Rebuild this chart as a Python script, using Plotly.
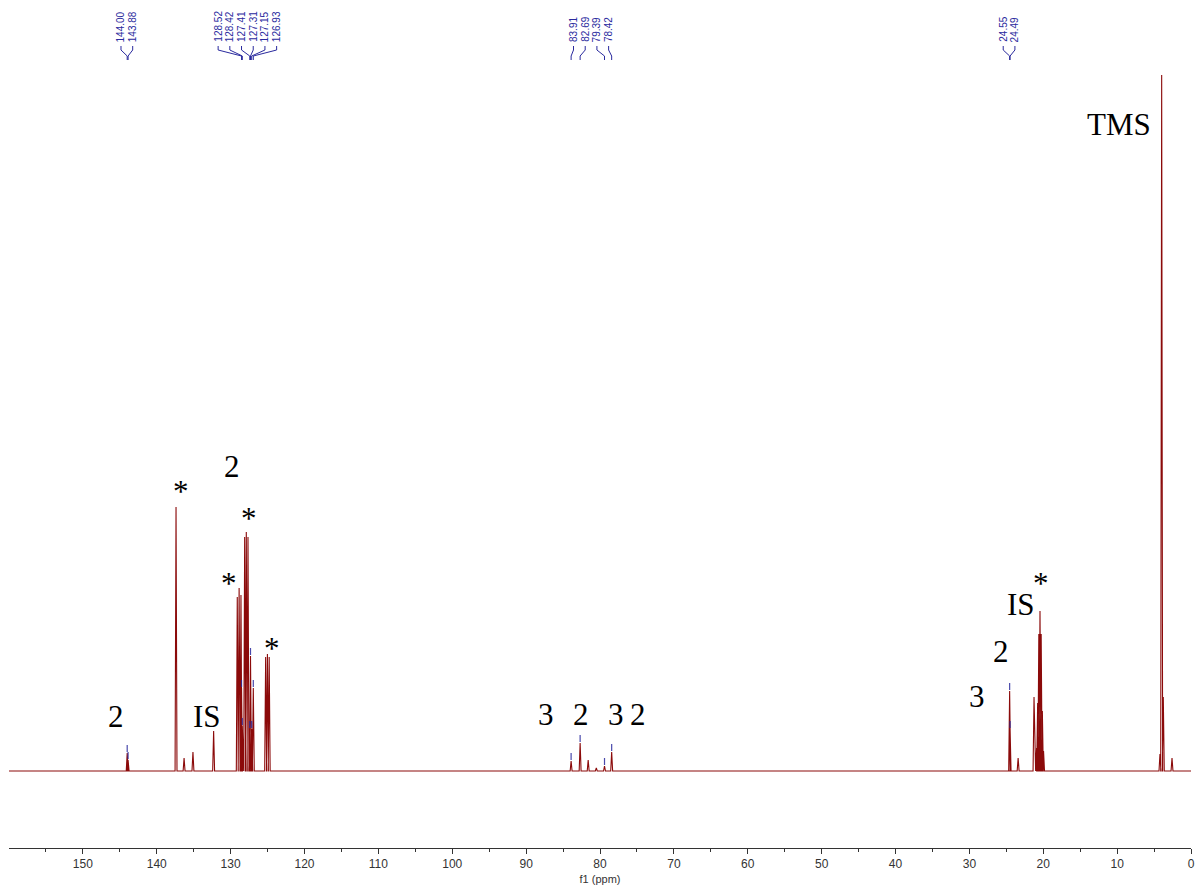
import plotly.graph_objects as go

# ---- 13C spectrum peak table (ppm, intensity) ----
# assigned / picked peaks (blue peak markers + ppm labels)
picked_ppm = [144.00, 143.88, 128.52, 128.42, 127.41, 127.31, 127.15, 126.93,
              83.91, 82.69, 79.39, 78.42, 24.55, 24.49]
picked_int = [18, 11, 83, 45, 42, 115, 42, 83,
              10, 28, 5, 19, 80, 42]

# remaining signals (solvent toluene-d8, internal standard, TMS, minor peaks)
other_ppm = [137.39, 136.30, 135.10, 132.30,
             129.10, 128.85, 128.60,
             128.10, 127.88, 127.65,
             125.26, 125.02, 124.78,
             81.60, 80.50,
             23.40, 21.25,
             20.90, 20.76, 20.60, 20.44, 20.28, 20.12, 19.96,
             4.20, 3.97, 3.75, 2.57]
other_int = [264, 13, 19, 40,
             174, 183, 176,
             234, 239, 234,
             114, 117, 114,
             11, 3,
             13, 74,
             23, 68, 137, 160, 137, 60, 20,
             17, 696, 74, 13]

# groups of picked peaks sharing one label fan
label_groups = [[144.00, 143.88],
                [128.52, 128.42, 127.41, 127.31, 127.15, 126.93],
                [83.91, 82.69, 79.39, 78.42],
                [24.55, 24.49]]

# assignment labels: text, ppm, height
assign_text = ["2", "*", "IS", "2", "*", "*", "*", "3", "2", "3", "2",
               "3", "2", "IS", "*", "TMS"]
assign_ppm = [145.52, 136.72, 133.20, 129.81, 127.51, 130.22, 124.40,
              87.31, 82.57, 77.83, 74.86, 28.97, 25.72, 23.01, 20.30, 9.70]
assign_h = [55, 283, 55, 305, 256, 191, 126, 57, 57, 57, 57,
            75, 120, 167, 191, 647]

X_MAX, X_MIN = 160.0, 0.0
Y_MIN, Y_MAX = -77, 771
W, H = 1198, 891
M_L, M_R, M_T, M_B = 9, 7, 0, 43
PX_PER_PPM = (W - M_L - M_R) / (X_MAX - X_MIN)

RED = "#8b0a0a"
BLUE = "#2a2a9e"

# ---- spectrum trace: narrow peaks on a flat baseline ----
peaks = sorted(zip(picked_ppm + other_ppm, picked_int + other_int), reverse=True)
hw = 0.13
sx, sy = [X_MAX], [0]
for p, h in peaks:
    sx += [p + hw, p, p - hw]
    sy += [0, h, 0]
sx.append(X_MIN)
sy.append(0)

fig = go.Figure()
fig.add_trace(go.Scatter(x=sx, y=sy, mode="lines",
                         line=dict(color=RED, width=1.1),
                         hoverinfo="skip", showlegend=False))

# ---- peak markers above each picked apex ----
mx, my = [], []
for p, h in zip(picked_ppm, picked_int):
    mx += [p, p, None]
    my += [h + 1, h + 8, None]
fig.add_trace(go.Scatter(x=mx, y=my, mode="lines",
                         line=dict(color=BLUE, width=1.2),
                         opacity=0.85, hoverinfo="skip", showlegend=False))


def px_to_ppm(px):
    return X_MAX - (px - M_L) / PX_PER_PPM


def ppm_to_px(ppm):
    return M_L + (X_MAX - ppm) * PX_PER_PPM


def py_to_h(py):
    return Y_MAX - py


# ---- ppm label fans at the top ----
spacing = 11.7
cx, cy = [], []
annotations = []
for grp in label_groups:
    pxs = [ppm_to_px(p) for p in grp]
    centre = sum(pxs) / len(pxs) - 0.8
    n = len(grp)
    for i, (p, ppx) in enumerate(zip(grp, pxs)):
        lx = centre + (i - (n - 1) / 2) * spacing
        annotations.append(dict(
            x=px_to_ppm(lx), y=py_to_h(44), xref="x", yref="y",
            text=f"{p:.2f}", textangle=-90, showarrow=False,
            xanchor="center", yanchor="bottom",
            font=dict(family="Liberation Sans", size=10, color=BLUE)))
        cx += [px_to_ppm(lx), px_to_ppm(lx), p, p, None]
        cy += [py_to_h(46), py_to_h(50), py_to_h(56), py_to_h(60), None]
fig.add_trace(go.Scatter(x=cx, y=cy, mode="lines",
                         line=dict(color=BLUE, width=1),
                         hoverinfo="skip", showlegend=False))

# ---- assignment labels ----
for t, p, h in zip(assign_text, assign_ppm, assign_h):
    annotations.append(dict(
        x=p, y=h, xref="x", yref="y", text=t, showarrow=False,
        xanchor="center", yanchor="middle",
        yshift=-3 if t == "*" else 0,
        font=dict(family="Liberation Serif", size=31, color="black")))

major = list(range(0, 151, 10))
minor = list(range(5, 156, 10))

fig.update_layout(
    width=W, height=H,
    margin=dict(l=M_L, r=M_R, t=M_T, b=M_B),
    paper_bgcolor="white", plot_bgcolor="white",
    annotations=annotations,
    xaxis=dict(range=[X_MAX, X_MIN], showgrid=False, zeroline=False,
               showline=True, linecolor="#333333", linewidth=1,
               ticks="outside", ticklen=5, tickcolor="#333333",
               tickvals=major, ticktext=[str(v) for v in major],
               tickfont=dict(family="Liberation Sans", size=12, color="#333333"),
               minor=dict(tickvals=minor, ticks="outside", ticklen=3,
                          tickcolor="#333333"),
               title=dict(text="f1 (ppm)", standoff=4,
                          font=dict(family="Liberation Sans", size=11,
                                    color="#333333"))),
    yaxis=dict(range=[Y_MIN, Y_MAX], visible=False, showgrid=False,
               zeroline=False),
)

fig.write_html("out.html")
